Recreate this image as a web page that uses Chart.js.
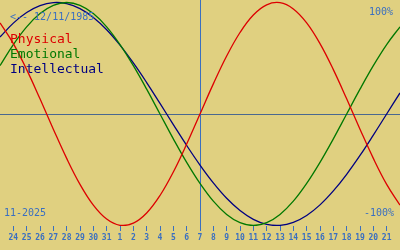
<!DOCTYPE html>
<html>
<head>
<meta charset="utf-8">
<script src="https://cdn.jsdelivr.net/npm/chart.js@4/dist/chart.umd.min.js"></script>
<style>
  body { margin: 0; background: #e0d080; }
  #wrap { position: relative; width: 400px; height: 250px; background: #e0d080; overflow: hidden; }
  #wrap canvas { position: absolute; left: 0; top: 0; }
  .t { position: absolute; font-family: "DejaVu Sans Mono", monospace; white-space: pre; line-height: 1; }
  .small { font-size: 10px; color: #3a6fc0; }
  .big { font-size: 13px; }
</style>
</head>
<body>
<div id="wrap">
  <canvas id="bio" width="400" height="250"></canvas>
  <div class="t small" style="left:10px; top:12px;">&lt;-- 12/11/1985</div>
  <div class="t small" style="right:7px; top:7px;">100%</div>
  <div class="t small" style="right:6px; top:208px;">-100%</div>
  <div class="t small" style="left:4px; top:208px;">11-2025</div>
  <div class="t big" style="left:10px; top:32px; color:#dd0000;">Physical</div>
  <div class="t big" style="left:10px; top:47px; color:#007800;">Emotional</div>
  <div class="t big" style="left:10px; top:62px; color:#000080;">Intellectual</div>
</div>
<script>
// days shown, 23 Oct .. 22 Nov 2025 (first and last are unlabeled)
const days = ["23","24","25","26","27","28","29","30","31","1","2","3","4","5","6","7",
  "8","9","10","11","12","13","14","15","16","17","18","19","20","21","22"];
const todayIndex = 15;

const physical = [0.817, 0.631, 0.398, 0.136, -0.136, -0.398, -0.631, -0.817, -0.942, -0.998,
  -0.979, -0.888, -0.731, -0.520, -0.270, 0, 0.270, 0.520, 0.731, 0.888,
  0.979, 0.998, 0.942, 0.817, 0.631, 0.398, 0.136, -0.136, -0.398, -0.631, -0.817];
const emotional = [0.434, 0.623, 0.782, 0.901, 0.975, 1, 0.975, 0.901, 0.782, 0.623,
  0.434, 0.223, 0, -0.223, -0.434, -0.623, -0.782, -0.901, -0.975, -1,
  -0.975, -0.901, -0.782, -0.623, -0.434, -0.223, 0, 0.223, 0.434, 0.623, 0.782];
const intellectual = [0.690, 0.815, 0.910, 0.972, 0.999, 0.990, 0.945, 0.866, 0.756, 0.618,
  0.458, 0.282, 0.095, -0.095, -0.282, -0.458, -0.618, -0.756, -0.866, -0.945,
  -0.990, -0.999, -0.972, -0.910, -0.815, -0.690, -0.541, -0.372, -0.189, 0, 0.189];

// zero line + today marker
const guides = {
  id: "guides",
  beforeDatasetsDraw(chart) {
    const ctx = chart.ctx, area = chart.chartArea;
    const y0 = Math.round(chart.scales.y.getPixelForValue(0)) + 0.5;
    const xt = Math.round(chart.scales.x.getPixelForValue(todayIndex)) + 0.5;
    ctx.save();
    ctx.lineWidth = 1;
    ctx.strokeStyle = "#4a6890";
    ctx.beginPath(); ctx.moveTo(0, y0); ctx.lineTo(chart.width, y0); ctx.stroke();
    ctx.strokeStyle = "#3a6fc0";
    ctx.beginPath(); ctx.moveTo(xt, area.top); ctx.lineTo(xt, area.bottom); ctx.stroke();
    ctx.restore();
  }
};

function line(data, color) {
  return { data: data, borderColor: color, borderWidth: 1.3, pointRadius: 0, tension: 0.4, fill: false };
}

new Chart(document.getElementById("bio"), {
  type: "line",
  data: {
    labels: days,
    datasets: [
      line(physical, "#dd0000"),
      line(emotional, "#007800"),
      line(intellectual, "#000080")
    ]
  },
  options: {
    responsive: false,
    animation: false,
    devicePixelRatio: 1,
    layout: { padding: 0 },
    plugins: { legend: { display: false }, tooltip: { enabled: false } },
    scales: {
      y: { display: false, min: -1.0045, max: 1.0224 },
      x: {
        offset: false,
        afterBuildTicks: s => { s.ticks = s.ticks.filter(t => t.value > 0 && t.value < days.length - 1); },
        afterFit: s => { s.height = 24; },
        border: { display: false },
        grid: { drawOnChartArea: false, tickLength: 5, color: "#3a6fc0" },
        ticks: {
          autoSkip: false, maxRotation: 0, padding: 2,
          color: "#3a6fc0",
          font: { family: "DejaVu Sans Mono", size: 8, weight: "bold" }
        }
      }
    }
  },
  plugins: [guides]
});
</script>
</body>
</html>
